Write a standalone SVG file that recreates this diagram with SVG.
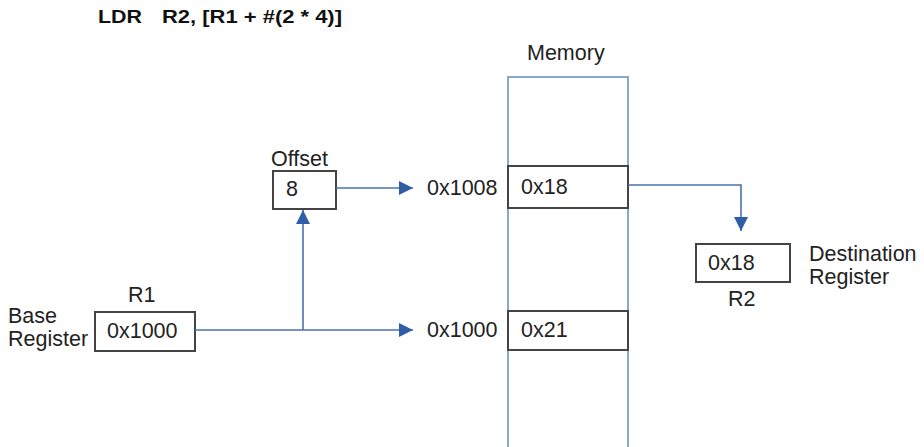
<svg xmlns="http://www.w3.org/2000/svg" width="924" height="447" viewBox="0 0 924 447">
<defs>
<style>
text{font-family:"Liberation Sans",Arial,sans-serif;font-size:21.5px;fill:#222}
.t{font-weight:bold;font-size:19px;fill:#111}
.box{fill:#fff;stroke:#444;stroke-width:2}
.mem{fill:#fff;stroke:#8aa8d4;stroke-width:2}
.ln{fill:none;stroke:#4a72ad;stroke-width:1.6}
</style>
<marker id="ah" viewBox="0 0 10 10" refX="10" refY="5" markerWidth="14" markerHeight="14" markerUnits="userSpaceOnUse" orient="auto">
<path d="M0,0 L10,5 L0,10 z" fill="#2f5ea6"/>
</marker>
</defs>
<rect width="924" height="447" fill="#fff"/>
<text class="t" x="98" y="23" textLength="44" lengthAdjust="spacingAndGlyphs">LDR</text>
<text class="t" x="162" y="23" textLength="180" lengthAdjust="spacingAndGlyphs">R2, [R1 + #(2 * 4)]</text>
<g id="memory">
<text x="527" y="60">Memory</text>
<rect class="mem" x="508" y="77" width="120" height="372"/>
</g>
<g id="cell1008">
<rect class="box" x="508" y="166" width="120" height="42"/>
<text x="521" y="194">0x18</text>
<text x="427" y="195">0x1008</text>
</g>
<g id="cell1000">
<rect class="box" x="508" y="311" width="120" height="39"/>
<text x="521" y="337">0x21</text>
<text x="427" y="337">0x1000</text>
</g>
<g id="offset">
<text x="271" y="166">Offset</text>
<rect class="box" x="273" y="171" width="63" height="38"/>
<text x="286" y="196">8</text>
</g>
<g id="r1">
<text x="128" y="302">R1</text>
<rect class="box" x="95" y="312" width="100" height="39"/>
<text x="107" y="338">0x1000</text>
<text x="8" y="323">Base</text>
<text x="8" y="346">Register</text>
</g>
<g id="r2">
<rect class="box" x="696" y="244" width="94" height="38"/>
<text x="708" y="270">0x18</text>
<text x="728" y="306">R2</text>
<text x="809" y="261">Destination</text>
<text x="809" y="284">Register</text>
</g>
<g id="connectors">
<path class="ln" d="M336,188 H413" marker-end="url(#ah)"/>
<path class="ln" d="M195,330 H413" marker-end="url(#ah)"/>
<path class="ln" d="M303,330 V210" marker-end="url(#ah)"/>
<path class="ln" d="M628,185 H741 V231" marker-end="url(#ah)"/>
</g>
</svg>
